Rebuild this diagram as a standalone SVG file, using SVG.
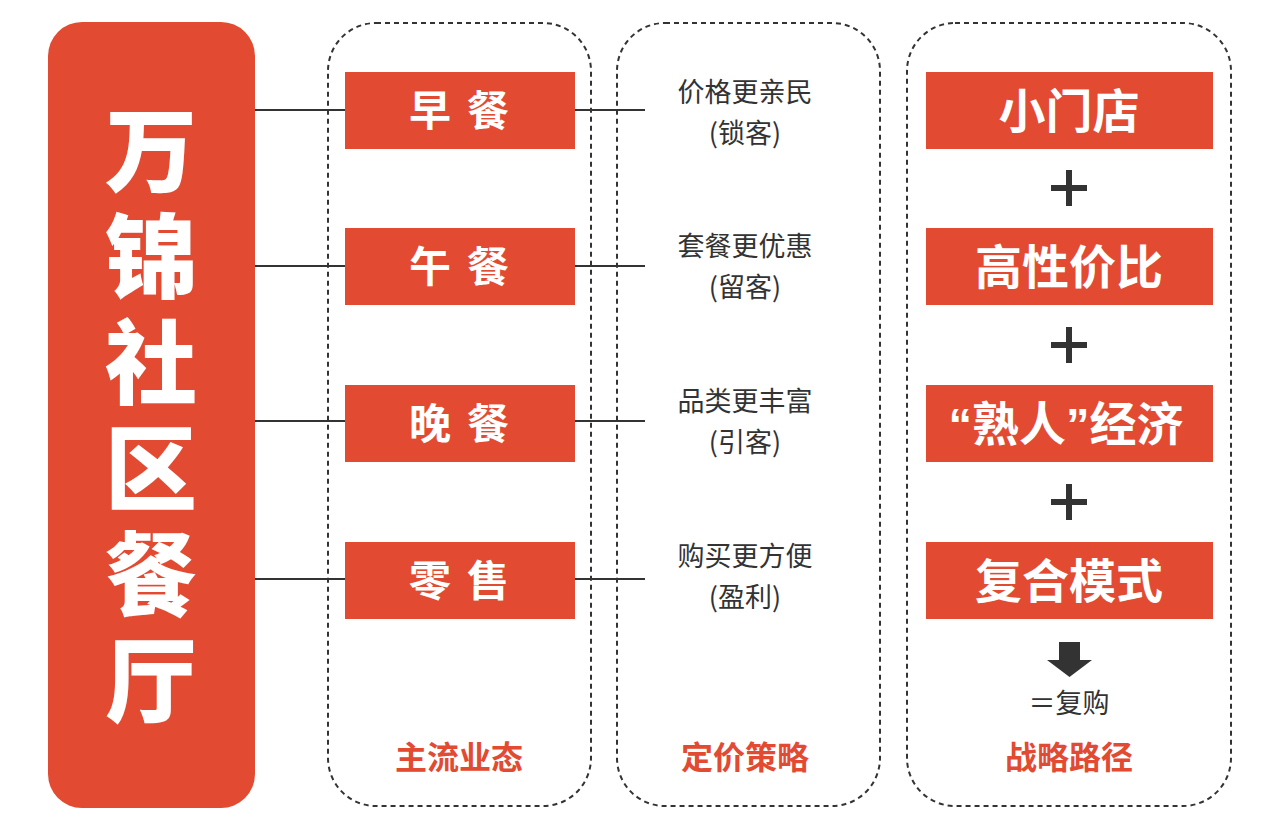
<svg xmlns="http://www.w3.org/2000/svg" width="1280" height="830" viewBox="0 0 1280 830">
<style>
.red{fill:#E24A31}
.dash{fill:none;stroke:#333;stroke-width:2;stroke-dasharray:5 4}
.big{font-family:"Noto Sans CJK SC",sans-serif;font-weight:900;fill:#fff;font-size:92px;text-anchor:middle;writing-mode:vertical-rl;letter-spacing:14px}
.b1{font-family:"Noto Sans CJK SC",sans-serif;font-weight:700;fill:#fff;font-size:42px;text-anchor:middle;letter-spacing:16px}
.b3{font-family:"Noto Sans CJK SC",sans-serif;font-weight:700;fill:#fff;font-size:47px;text-anchor:middle}
.q{font-family:"Liberation Sans",sans-serif;font-weight:700}
.t2{font-family:"Noto Sans CJK SC",sans-serif;font-weight:400;fill:#333;font-size:27px;text-anchor:middle}
.lab{font-family:"Noto Sans CJK SC",sans-serif;font-weight:700;fill:#E24A31;font-size:32px;text-anchor:middle}
.ln{stroke:#333;stroke-width:2;fill:none}
.dk{fill:#333}
</style>
<g id="columns">
<rect class="dash" x="328" y="23" width="263" height="783" rx="48"/>
<rect class="dash" x="617" y="23" width="263" height="783" rx="48"/>
<rect class="dash" x="907" y="23" width="324" height="783" rx="48"/>
</g>
<g id="connectors">
<line class="ln" x1="255" y1="110" x2="345" y2="110"/>
<line class="ln" x1="255" y1="266" x2="345" y2="266"/>
<line class="ln" x1="255" y1="421" x2="345" y2="421"/>
<line class="ln" x1="255" y1="579" x2="345" y2="579"/>
<line class="ln" x1="575" y1="110" x2="645" y2="110"/>
<line class="ln" x1="575" y1="266" x2="645" y2="266"/>
<line class="ln" x1="575" y1="421" x2="645" y2="421"/>
<line class="ln" x1="575" y1="579" x2="645" y2="579"/>
</g>
<g id="title">
<rect class="red" x="48" y="22" width="207" height="786" rx="34"/>
<text class="big" x="151" y="422">万锦社区餐厅</text>
</g>
<g id="breakfast"><rect class="red" x="345" y="72" width="230" height="77"/><text class="b1" x="467" y="126">早餐</text></g>
<g id="lunch"><rect class="red" x="345" y="228" width="230" height="77"/><text class="b1" x="467" y="282">午餐</text></g>
<g id="dinner"><rect class="red" x="345" y="385" width="230" height="77"/><text class="b1" x="467" y="439">晚餐</text></g>
<g id="retail"><rect class="red" x="345" y="542" width="230" height="77"/><text class="b1" x="467" y="596">零售</text></g>
<g id="price1"><text class="t2" x="745" y="102">价格更亲民</text><text class="t2" x="745" y="143">(锁客)</text></g>
<g id="price2"><text class="t2" x="745" y="256">套餐更优惠</text><text class="t2" x="745" y="297">(留客)</text></g>
<g id="price3"><text class="t2" x="745" y="411">品类更丰富</text><text class="t2" x="745" y="452">(引客)</text></g>
<g id="price4"><text class="t2" x="745" y="566">购买更方便</text><text class="t2" x="745" y="607">(盈利)</text></g>
<g id="small-store"><rect class="red" x="926" y="72" width="287" height="77"/><text class="b3" x="1069" y="128">小门店</text></g>
<g id="value"><rect class="red" x="926" y="228" width="287" height="77"/><text class="b3" x="1069" y="284">高性价比</text></g>
<g id="acquaint"><rect class="red" x="926" y="385" width="287" height="77"/><text class="b3" x="1066" y="441"><tspan class="q">“</tspan>熟人<tspan class="q">”</tspan>经济</text></g>
<g id="composite"><rect class="red" x="926" y="542" width="287" height="77"/><text class="b3" x="1069" y="598">复合模式</text></g>
<g id="plus">
<rect class="dk" x="1051" y="185" width="36" height="6"/><rect class="dk" x="1066" y="170" width="6" height="36"/>
<rect class="dk" x="1051" y="342" width="36" height="6"/><rect class="dk" x="1066" y="327" width="6" height="36"/>
<rect class="dk" x="1051" y="499" width="36" height="6"/><rect class="dk" x="1066" y="484" width="6" height="36"/>
</g>
<g id="result">
<polygon class="dk" points="1059,642 1080,642 1080,660 1092,660 1069.5,677 1047,660 1059,660"/>
<text class="t2" x="1069" y="713">＝复购</text>
</g>
<g id="labels">
<text class="lab" x="459" y="769">主流业态</text>
<text class="lab" x="745" y="769">定价策略</text>
<text class="lab" x="1069" y="769">战略路径</text>
</g>
</svg>
